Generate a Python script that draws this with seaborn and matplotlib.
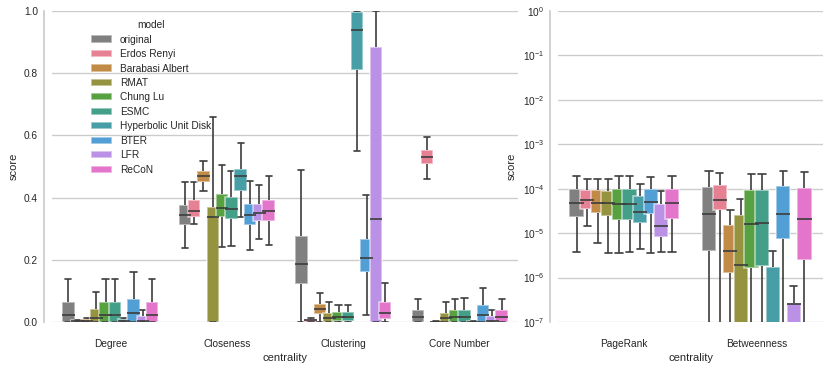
import matplotlib
matplotlib.use("Agg")
import pandas as pd
import matplotlib.pyplot as plt
import seaborn as sns

models = ["original", "Erdos Renyi", "Barabasi Albert", "RMAT", "Chung Lu",
          "ESMC", "Hyperbolic Unit Disk", "BTER", "LFR", "ReCoN"]

left_cats = ["Degree", "Closeness", "Clustering", "Core Number"]
right_cats = ["PageRank", "Betweenness"]

# five values per model (low whisker, q1, median, q3, high whisker)
degree = [
    [0, 0, 0.024, 0.065, 0.138],
    [0, 0.001, 0.003, 0.005, 0.008],
    [0, 0, 0.004, 0.010, 0.012],
    [0, 0, 0.012, 0.042, 0.096],
    [0, 0, 0.024, 0.065, 0.138],
    [0, 0, 0.024, 0.065, 0.138],
    [0, 0, 0.004, 0.010, 0.012],
    [0, 0, 0.030, 0.075, 0.160],
    [0, 0, 0.002, 0.020, 0.040],
    [0, 0, 0.024, 0.065, 0.138],
]
closeness = [
    [0.238, 0.311, 0.343, 0.375, 0.451],
    [0.316, 0.339, 0.358, 0.392, 0.451],
    [0.420, 0.451, 0.471, 0.487, 0.518],
    [0, 0, 0.337, 0.371, 0.658],
    [0.242, 0.337, 0.367, 0.410, 0.505],
    [0.245, 0.332, 0.364, 0.403, 0.487],
    [0.339, 0.422, 0.471, 0.492, 0.575],
    [0.232, 0.312, 0.343, 0.378, 0.454],
    [0.266, 0.325, 0.349, 0.380, 0.440],
    [0.249, 0.326, 0.358, 0.392, 0.469],
]
clustering = [
    [0, 0.122, 0.185, 0.278, 0.489],
    [0, 0.001, 0.005, 0.010, 0.012],
    [0, 0.025, 0.043, 0.058, 0.092],
    [0, 0, 0.012, 0.030, 0.065],
    [0, 0.002, 0.017, 0.032, 0.056],
    [0, 0.002, 0.017, 0.032, 0.056],
    [0.550, 0.809, 0.940, 0.996, 1.0],
    [0.022, 0.162, 0.205, 0.268, 0.408],
    [0, 0, 0.332, 0.885, 1.0],
    [0, 0.010, 0.030, 0.063, 0.124],
]
core_number = [
    [0, 0, 0.015, 0.037, 0.074],
    [0.460, 0.507, 0.530, 0.553, 0.594],
    [0, 0, 0.001, 0.002, 0.003],
    [0, 0, 0.013, 0.030, 0.064],
    [0, 0, 0.017, 0.039, 0.075],
    [0, 0, 0.017, 0.039, 0.077],
    [0, 0, 0.001, 0.002, 0.003],
    [0, 0, 0.021, 0.054, 0.109],
    [0, 0, 0.002, 0.019, 0.037],
    [0, 0, 0.015, 0.037, 0.074],
]
pagerank = [
    [3.77e-6, 2.27e-5, 4.78e-5, 9.86e-5, 1.93e-4],
    [1.45e-5, 3.44e-5, 5.66e-5, 9.55e-5, 1.63e-4],
    [6.0e-6, 2.88e-5, 4.85e-5, 9.2e-5, 1.68e-4],
    [3.5e-6, 2.39e-5, 4.85e-5, 8.75e-5, 1.68e-4],
    [3.5e-6, 2.01e-5, 4.53e-5, 9.86e-5, 1.96e-4],
    [3.77e-6, 2.01e-5, 4.53e-5, 9.86e-5, 1.96e-4],
    [4.47e-6, 1.69e-5, 3.04e-5, 6.75e-5, 1.30e-4],
    [3.5e-6, 2.65e-5, 4.94e-5, 9.7e-5, 1.87e-4],
    [3.83e-6, 8.05e-6, 1.47e-5, 4.46e-5, 9.04e-5],
    [3.77e-6, 2.08e-5, 4.69e-5, 9.86e-5, 1.96e-4],
]
betweenness = [
    [1e-8, 3.9e-6, 2.70e-5, 1.11e-4, 2.55e-4],
    [1e-8, 3.37e-5, 5.48e-5, 1.23e-4, 2.30e-4],
    [1e-8, 1.27e-6, 3.9e-6, 1.55e-5, 3.37e-5],
    [1e-8, 1e-8, 1.89e-6, 2.56e-5, 5.97e-5],
    [1e-8, 1.64e-6, 1.61e-5, 9.35e-5, 2.14e-4],
    [1e-8, 1.82e-6, 1.72e-5, 9.55e-5, 2.18e-4],
    [1e-8, 1e-8, 1e-8, 1.76e-6, 4.03e-6],
    [1e-8, 7.38e-6, 2.70e-5, 1.17e-4, 2.55e-4],
    [1e-8, 1e-8, 2.54e-7, 2.72e-7, 6.35e-7],
    [1e-8, 2.44e-6, 2.05e-5, 1.02e-4, 2.34e-4],
]


def to_frame(cats, tables):
    rows = []
    for cat, table in zip(cats, tables):
        for model, vals in zip(models, table):
            for v in vals:
                rows.append({"centrality": cat, "model": model, "score": v})
    return pd.DataFrame(rows)


df_left = to_frame(left_cats, [degree, closeness, clustering, core_number])
df_right = to_frame(right_cats, [pagerank, betweenness])

sns.set_theme(style="whitegrid")
plt.rcParams["font.family"] = ["Liberation Sans", "DejaVu Sans"]

palette = ["gray"] + sns.color_palette("husl", 9)

fig = plt.figure(figsize=(8.3, 3.7), dpi=100)
ax1 = fig.add_axes([52 / 830, 48 / 370, 466 / 830, 311 / 370])
ax2 = fig.add_axes([558 / 830, 48 / 370, 265 / 830, 311 / 370])

box_kw = dict(
    hue="model", hue_order=models, palette=palette, whis=(0, 100),
    showfliers=False, gap=-0.34, linecolor="#3d3d3d", linewidth=1.2,
    boxprops=dict(edgecolor=(1, 1, 1, 0.55)),
)

sns.boxplot(data=df_left, x="centrality", y="score", order=left_cats,
            ax=ax1, **box_kw)
sns.boxplot(data=df_right, x="centrality", y="score", order=right_cats,
            ax=ax2, log_scale=True, legend=False, **box_kw)

ax1.set_ylim(0, 1)
ax2.set_ylim(1e-7, 1)

for ax in (ax1, ax2):
    ax.tick_params(axis="x", labelsize=7.3, length=0, pad=12)
    ax.tick_params(axis="y", which="both", labelsize=7.3, length=0, pad=4)
    ax.set_xlabel("centrality", fontsize=8, labelpad=3)
    ax.set_ylabel("score", fontsize=8, labelpad=4)
    ax.xaxis.grid(False)
    sns.despine(ax=ax, offset=6, bottom=True)

sns.move_legend(ax1, "upper left", bbox_to_anchor=(0.065, 1.0),
                fontsize=7.3, title_fontsize=7.3, labelspacing=0.44,
                frameon=False)

fig.savefig("out.png", dpi=100)
